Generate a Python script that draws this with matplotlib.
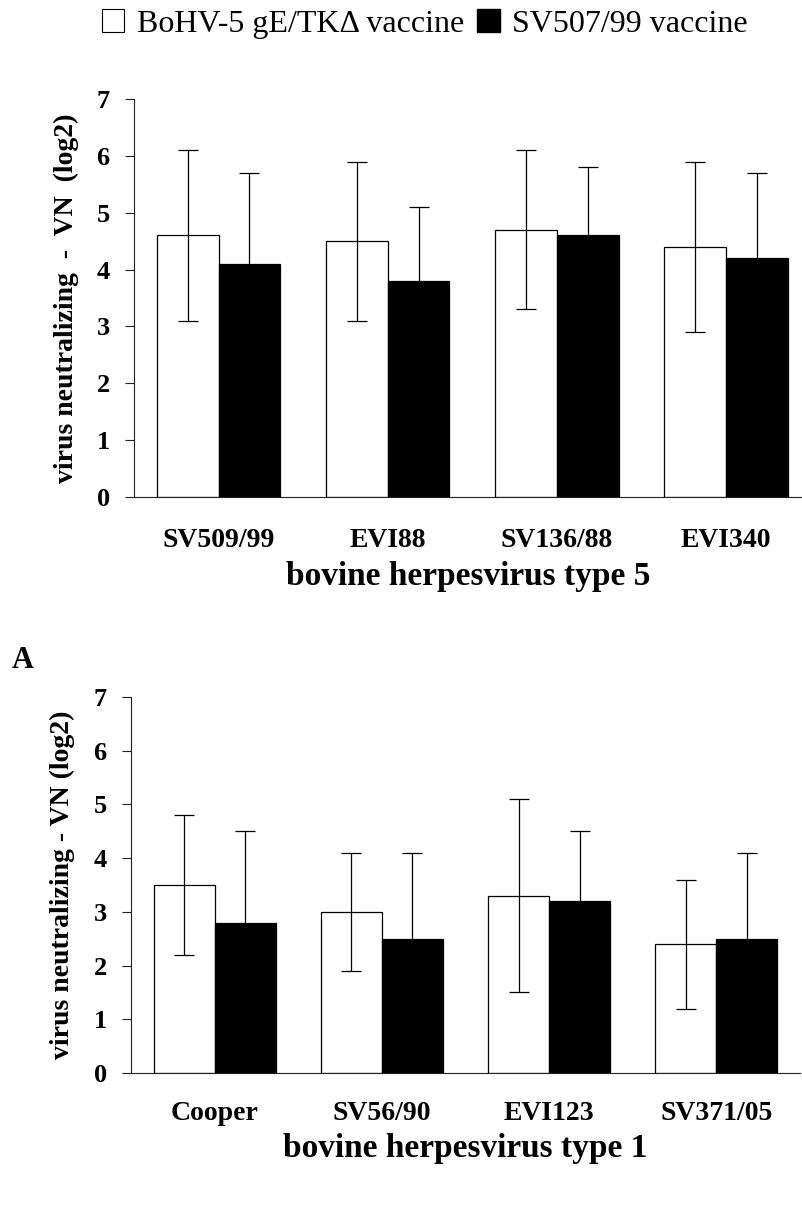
import matplotlib
matplotlib.use("Agg")
import matplotlib.pyplot as plt
from matplotlib.patches import Patch
import numpy as np

plt.rcParams.update({
    "font.family": ["Liberation Serif", "DejaVu Serif"],
    "axes.linewidth": 0.8,
})

# ---------------------------------------------------------------------------
# Data
# ---------------------------------------------------------------------------
SERIES = ["BoHV-5 gE/TK\u0394 vaccine", "SV507/99 vaccine"]

bohv5_strains = ["SV509/99", "EVI88", "SV136/88", "EVI340"]
bohv5_gETK = [4.6, 4.5, 4.7, 4.4]
bohv5_gETK_err = [1.5, 1.4, 1.4, 1.5]
bohv5_sv507 = [4.1, 3.8, 4.6, 4.2]
bohv5_sv507_err = [1.6, 1.3, 1.2, 1.5]

bohv1_strains = ["Cooper", "SV56/90", "EVI123", "SV371/05"]
bohv1_gETK = [3.5, 3.0, 3.3, 2.4]
bohv1_gETK_err = [1.3, 1.1, 1.8, 1.2]
bohv1_sv507 = [2.8, 2.5, 3.2, 2.5]
bohv1_sv507_err = [1.7, 1.6, 1.3, 1.6]

Y_TICKS = [0, 1, 2, 3, 4, 5, 6, 7]

W, H = 803, 1218
BAR_W = 0.365
EDGE = "#222222"


def draw_panel(ax, strains, white, white_err, black, black_err,
               xlabel, ylabel, xmax, tick_pad):
    x = np.arange(len(strains))
    err_kw = dict(ecolor="black", elinewidth=0.9, capsize=7, capthick=0.9)
    ax.bar(x - BAR_W / 2, white, BAR_W, yerr=white_err, color="white",
           edgecolor="black", linewidth=0.9, error_kw=err_kw, zorder=2)
    ax.bar(x + BAR_W / 2, black, BAR_W, yerr=black_err, color="black",
           edgecolor="black", linewidth=0.9, error_kw=err_kw, zorder=2)

    ax.set_xlim(-0.5, xmax)
    ax.set_ylim(0, 7)
    ax.set_yticks(Y_TICKS)
    ax.set_xticks(x)
    ax.set_xticklabels(strains, fontsize=20, fontweight="bold")
    for lab in ax.get_yticklabels():
        lab.set_fontsize(19)
        lab.set_fontweight("bold")
    ax.tick_params(axis="x", length=0, pad=tick_pad)
    ax.tick_params(axis="y", length=6.5, width=0.8, pad=11, color=EDGE)

    for side in ["top", "right"]:
        ax.spines[side].set_visible(False)
    for side in ["left", "bottom"]:
        ax.spines[side].set_color(EDGE)

    ax.set_xlabel(xlabel, fontsize=24, fontweight="bold")
    ax.xaxis.set_label_coords(0.5, -0.16)
    ax.set_ylabel(ylabel, fontsize=20, fontweight="bold")
    ax.yaxis.set_label_coords(-0.083, 0.5)


fig = plt.figure(figsize=(W / 100, H / 100), dpi=100)

# top panel: BoHV-5 strains
ax1 = fig.add_axes([134 / W, 1 - 497 / H, (802 - 134) / W, 398 / H])
draw_panel(ax1, bohv5_strains, bohv5_gETK, bohv5_gETK_err,
           bohv5_sv507, bohv5_sv507_err,
           "bovine herpesvirus type 5",
           "virus neutralizing  -  VN  (log2)", 3.45, 22)

# bottom panel: BoHV-1 strains
ax2 = fig.add_axes([131 / W, 1 - 1073 / H, (800 - 131) / W, 376 / H])
draw_panel(ax2, bohv1_strains, bohv1_gETK, bohv1_gETK_err,
           bohv1_sv507, bohv1_sv507_err,
           "bovine herpesvirus type 1",
           "virus neutralizing - VN (log2)", 3.5, 20)

fig.text(12 / W, 1 - 660 / H, "A", fontsize=22, fontweight="bold",
         ha="left", va="center")

handles = [Patch(facecolor="white", edgecolor="black", linewidth=0.8),
           Patch(facecolor="black", edgecolor="black")]
fig.legend(handles, SERIES, loc="center", bbox_to_anchor=(425 / W, 1 - 24 / H),
           ncol=2, frameon=False, fontsize=23, handlelength=0.7,
           handleheight=0.7, handletextpad=0.4, columnspacing=0.4,
           borderpad=0, borderaxespad=0)

fig.savefig("out.png", dpi=100)
